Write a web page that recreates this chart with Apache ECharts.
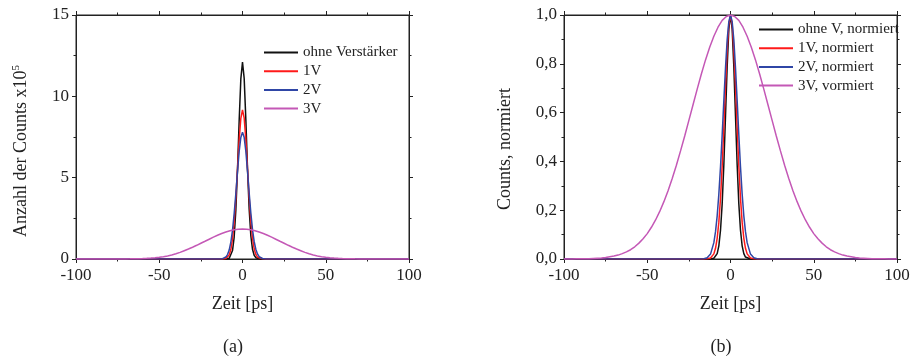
<!DOCTYPE html>
<html>
<head>
<meta charset="utf-8">
<title>Zeitauflösung</title>
<script src="https://cdn.jsdelivr.net/npm/echarts@6/dist/echarts.min.js"></script>
<style>
  html, body { margin: 0; padding: 0; background: #fff; }
  #chart { width: 912px; height: 357px; }
</style>
</head>
<body>
<div id="chart"></div>
<script>
// Zeitachse in ps für die schmalen Peaks (fein um das Maximum herum)
const zeit = [-100, -90, -80, -70, -60, -50, -45, -40, -35, -30, -25, -20, -16, -14, -12,
  -10, -9, -8, -7, -6, -5, -4, -3, -2, -1, 0, 1, 2, 3, 4, 5, 6, 7, 8, 9, 10,
  12, 14, 16, 20, 25, 30, 35, 40, 45, 50, 60, 70, 80, 90, 100];

// Zeitachse in ps für den breiten 3V-Peak (2,5 ps Raster)
const zeitBreit = [-100, -97.5, -95, -92.5, -90, -87.5, -85, -82.5, -80, -77.5, -75, -72.5, -70, -67.5,
  -65, -62.5, -60, -57.5, -55, -52.5, -50, -47.5, -45, -42.5, -40, -37.5, -35, -32.5, -30, -27.5,
  -25, -22.5, -20, -17.5, -15, -12.5, -10, -7.5, -5, -2.5, 0, 2.5, 5, 7.5, 10, 12.5, 15, 17.5,
  20, 22.5, 25, 27.5, 30, 32.5, 35, 37.5, 40, 42.5, 45, 47.5, 50, 52.5, 55, 57.5, 60, 62.5, 65,
  67.5, 70, 72.5, 75, 77.5, 80, 82.5, 85, 87.5, 90, 92.5, 95, 97.5, 100];

// (a) Anzahl der Counts x10^5
const countsOhneV = [0, 0, 0, 0, 0, 0, 0, 0, 0, 0, 0, 0, 0, 0, 0,
  0, 0.01, 0.04, 0.16, 0.52, 1.35, 3.00, 5.50, 8.52, 11.07, 12.10, 11.12, 8.60, 5.60, 3.08, 1.44, 0.60, 0.23, 0.08, 0.03, 0.01,
  0, 0, 0, 0, 0, 0, 0, 0, 0, 0, 0, 0, 0, 0, 0];
const counts1V = [0, 0, 0, 0, 0, 0, 0, 0, 0, 0, 0, 0, 0, 0, 0,
  0.03, 0.09, 0.25, 0.58, 1.22, 2.26, 3.75, 5.55, 7.32, 8.65, 9.16, 8.67, 7.35, 5.58, 3.80, 2.32, 1.28, 0.63, 0.28, 0.11, 0.04,
  0.01, 0, 0, 0, 0, 0, 0, 0, 0, 0, 0, 0, 0, 0, 0];
const counts2V = [0, 0, 0, 0, 0, 0, 0, 0, 0, 0, 0, 0, 0, 0, 0.02,
  0.12, 0.27, 0.55, 1.03, 1.77, 2.79, 4.03, 5.39, 6.61, 7.47, 7.79, 7.48, 6.63, 5.42, 4.07, 2.84, 1.82, 1.08, 0.60, 0.31, 0.14,
  0.03, 0, 0, 0, 0, 0, 0, 0, 0, 0, 0, 0, 0, 0, 0];
const counts3V = [0, 0, 0, 0, 0, 0, 0, 0.001, 0.001, 0.002, 0.003, 0.005, 0.007, 0.010,
  0.015, 0.021, 0.029, 0.040, 0.055, 0.076, 0.104, 0.140, 0.186, 0.245, 0.318, 0.405, 0.508, 0.612, 0.724, 0.842,
  0.968, 1.091, 1.217, 1.341, 1.458, 1.566, 1.659, 1.736, 1.793, 1.828, 1.840, 1.828, 1.793, 1.736, 1.659, 1.566, 1.458, 1.341,
  1.217, 1.091, 0.968, 0.842, 0.724, 0.612, 0.508, 0.405, 0.318, 0.245, 0.186, 0.140, 0.104, 0.076, 0.055, 0.040, 0.029, 0.021, 0.015,
  0.010, 0.007, 0.005, 0.003, 0.002, 0.001, 0.001, 0, 0, 0, 0, 0, 0, 0];

// (b) normierte Counts
const normOhneV = [0, 0, 0, 0, 0, 0, 0, 0, 0, 0, 0, 0, 0, 0, 0,
  0.003, 0.008, 0.022, 0.054, 0.118, 0.226, 0.386, 0.586, 0.788, 0.942, 1.000, 0.942, 0.788, 0.586, 0.386, 0.226, 0.118, 0.054, 0.022, 0.008, 0.003,
  0, 0, 0, 0, 0, 0, 0, 0, 0, 0, 0, 0, 0, 0, 0];
const norm1V = [0, 0, 0, 0, 0, 0, 0, 0, 0, 0, 0, 0, 0, 0.001, 0.004,
  0.021, 0.044, 0.085, 0.151, 0.249, 0.381, 0.539, 0.707, 0.857, 0.962, 1.000, 0.962, 0.857, 0.707, 0.539, 0.381, 0.249, 0.151, 0.085, 0.044, 0.021,
  0.004, 0.001, 0, 0, 0, 0, 0, 0, 0, 0, 0, 0, 0, 0, 0];
const norm2V = [0, 0, 0, 0, 0, 0, 0, 0, 0, 0, 0, 0, 0.001, 0.005, 0.020,
  0.067, 0.112, 0.177, 0.266, 0.378, 0.509, 0.649, 0.784, 0.898, 0.973, 1.000, 0.973, 0.898, 0.784, 0.649, 0.509, 0.378, 0.266, 0.177, 0.112, 0.067,
  0.020, 0.005, 0.001, 0, 0, 0, 0, 0, 0, 0, 0, 0, 0, 0, 0];
const norm3V = [0, 0, 0, 0.001, 0.001, 0.001, 0.001, 0.002, 0.003, 0.004, 0.006, 0.009, 0.012, 0.016,
  0.022, 0.029, 0.038, 0.050, 0.065, 0.083, 0.104, 0.130, 0.160, 0.195, 0.235, 0.280, 0.330, 0.384, 0.443, 0.504,
  0.568, 0.632, 0.696, 0.758, 0.816, 0.868, 0.913, 0.950, 0.978, 0.994, 1.000, 0.994, 0.978, 0.950, 0.913, 0.868, 0.816, 0.758,
  0.696, 0.632, 0.568, 0.504, 0.443, 0.384, 0.330, 0.280, 0.235, 0.195, 0.160, 0.130, 0.104, 0.083, 0.065, 0.050, 0.038, 0.029, 0.022,
  0.016, 0.012, 0.009, 0.006, 0.004, 0.003, 0.002, 0.001, 0.001, 0.001, 0.001, 0, 0, 0];

const namenA = ['ohne Verstärker', '1V', '2V', '3V'];
const namenB = ['ohne V, normiert', '1V, normiert', '2V, normiert', '3V, vormiert'];
const farben = ['#111111', '#ff1a1a', '#2f46a6', '#c458b6'];

const FONT = 'Liberation Serif, Times New Roman, serif';
const INK = '#222';

const chart = echarts.init(document.getElementById('chart'), null, { renderer: 'canvas' });

function xAchsen(gridIndex) {
  const base = {
    gridIndex, type: 'value', min: -100, max: 100, interval: 50,
    axisLine: { show: true, onZero: false, lineStyle: { color: INK, width: 1 } },
    axisTick: { show: true, inside: false, length: 4, lineStyle: { color: INK } },
    minorTick: { show: true, splitNumber: 2, length: 2.5, lineStyle: { color: INK } },
    splitLine: { show: false }, minorSplitLine: { show: false }
  };
  return [
    Object.assign({}, base, {
      position: 'bottom',
      name: 'Zeit [ps]', nameLocation: 'middle', nameGap: 36,
      nameTextStyle: { fontFamily: FONT, fontSize: 18, color: INK },
      axisLabel: { show: true, margin: 8, fontFamily: FONT, fontSize: 17, color: INK }
    }),
    Object.assign({}, base, { position: 'top', axisLabel: { show: false } })
  ];
}

function yAchsen(gridIndex, max, interval, fmt) {
  const base = {
    gridIndex, type: 'value', min: 0, max, interval,
    axisLine: { show: true, onZero: false, lineStyle: { color: INK, width: 1 } },
    axisTick: { show: true, inside: false, length: 4, lineStyle: { color: INK } },
    minorTick: { show: true, splitNumber: 2, length: 2.5, lineStyle: { color: INK } },
    splitLine: { show: false }, minorSplitLine: { show: false }
  };
  return [
    Object.assign({}, base, {
      position: 'left',
      axisLabel: { show: true, margin: 7, fontFamily: FONT, fontSize: 17, color: INK, formatter: fmt }
    }),
    Object.assign({}, base, { position: 'right', axisLabel: { show: false } })
  ];
}

function kurve(name, xs, werte, farbe, achse) {
  return {
    name, type: 'line', xAxisIndex: achse, yAxisIndex: achse,
    data: xs.map((t, i) => [t, werte[i]]),
    symbol: 'none', showSymbol: false, smooth: false,
    lineStyle: { color: farbe, width: 1.5 },
    itemStyle: { color: farbe },
    emphasis: { disabled: true },
    animation: false
  };
}

function legende(namen, left, top) {
  return {
    data: namen, orient: 'vertical', left, top, padding: 0,
    icon: 'rect', itemWidth: 34, itemHeight: 2, itemGap: 3.7,
    selectedMode: false,
    textStyle: { fontFamily: FONT, fontSize: 15, lineHeight: 15, color: INK }
  };
}

const option = {
  backgroundColor: '#ffffff',
  animation: false,
  grid: [
    { left: 76, top: 15, width: 333, height: 244, containLabel: false, outerBoundsMode: 'none',
      show: true, borderColor: INK, borderWidth: 1, backgroundColor: 'transparent' },
    { left: 564, top: 15, width: 333, height: 244, containLabel: false, outerBoundsMode: 'none',
      show: true, borderColor: INK, borderWidth: 1, backgroundColor: 'transparent' }
  ],
  xAxis: [...xAchsen(0), ...xAchsen(1)],
  yAxis: [
    ...yAchsen(0, 15, 5, v => String(v)),
    ...yAchsen(1, 1, 0.2, v => v.toFixed(1).replace('.', ','))
  ],
  legend: [legende(namenA, 264, 45), legende(namenB, 759, 22)],
  series: [
    kurve(namenA[0], zeit, countsOhneV, farben[0], 0),
    kurve(namenA[1], zeit, counts1V, farben[1], 0),
    kurve(namenA[2], zeit, counts2V, farben[2], 0),
    kurve(namenA[3], zeitBreit, counts3V, farben[3], 0),
    kurve(namenB[0], zeit, normOhneV, farben[0], 2),
    kurve(namenB[1], zeit, norm1V, farben[1], 2),
    kurve(namenB[2], zeit, norm2V, farben[2], 2),
    kurve(namenB[3], zeitBreit, norm3V, farben[3], 2)
  ],
  graphic: [
    {
      type: 'text', x: 21, y: 151, rotation: Math.PI / 2,
      style: {
        text: '{m|Anzahl der Counts x10}{s|5}',
        align: 'center', verticalAlign: 'middle', fill: INK,
        rich: {
          m: { fontFamily: FONT, fontSize: 18, lineHeight: 20, fill: INK },
          s: { fontFamily: FONT, fontSize: 11, lineHeight: 20, verticalAlign: 'top', fill: INK }
        }
      }
    },
    {
      type: 'text', x: 505, y: 149, rotation: Math.PI / 2,
      style: { text: 'Counts, normiert', font: '18px ' + FONT, align: 'center', verticalAlign: 'middle', fill: INK }
    },
    {
      type: 'text', x: 233, y: 347,
      style: { text: '(a)', font: '18px ' + FONT, align: 'center', verticalAlign: 'middle', fill: INK }
    },
    {
      type: 'text', x: 721, y: 347,
      style: { text: '(b)', font: '18px ' + FONT, align: 'center', verticalAlign: 'middle', fill: INK }
    }
  ]
};

chart.setOption(option);
</script>
</body>
</html>
